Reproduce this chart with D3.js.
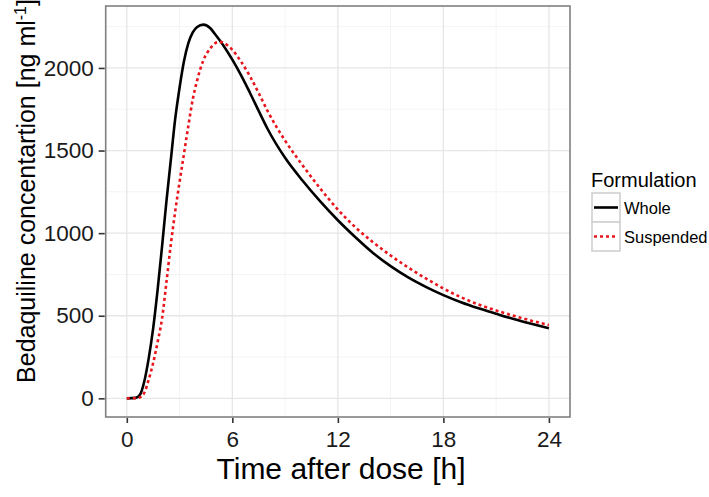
<!DOCTYPE html>
<html>
<head>
<meta charset="utf-8">
<script src="https://cdn.jsdelivr.net/npm/d3@7"></script>
<style>
  body { margin: 0; background: #fff; }
  svg { font-family: "Liberation Sans", Arial, sans-serif; }
</style>
</head>
<body>
<svg width="709" height="497"></svg>
<script>
// time points (h)
var times = [0, 0.5, 0.75, 1, 1.25, 1.5, 1.75, 2, 2.25, 2.5, 2.75, 3, 3.25, 3.5, 3.75, 4, 4.35, 4.75, 5, 5.25, 5.5, 6, 6.5, 7, 7.5, 8, 9, 10, 11, 12, 13, 14, 15, 16, 17, 18, 19, 20, 21, 22, 23, 24];
var whole = [0, 3, 22, 105, 245, 425, 655, 915, 1190, 1440, 1690, 1880, 2040, 2150, 2215, 2248, 2262, 2240, 2207, 2172, 2135, 2050, 1955, 1850, 1740, 1632, 1456, 1317, 1192, 1078, 975, 880, 800, 732, 675, 625, 582, 545, 512, 480, 451, 424];
var suspended = [0, 1, 6, 35, 115, 215, 340, 480, 700, 930, 1130, 1310, 1480, 1650, 1810, 1925, 2045, 2118, 2148, 2158, 2152, 2110, 2038, 1950, 1848, 1740, 1560, 1410, 1270, 1143, 1035, 945, 865, 792, 726, 665, 612, 568, 532, 500, 470, 444];

var xTicks = [0, 6, 12, 18, 24];
var xMinor = [3, 9, 15, 21];
var yTicks = [0, 500, 1000, 1500, 2000];
var yMinor = [250, 750, 1250, 1750, 2250];

var seriesNames = ['Whole', 'Suspended'];
var seriesColor = { Whole: '#000000', Suspended: '#e8161c' };
var seriesDash = { Whole: null, Suspended: '3,3' };

var svg = d3.select('svg');

var x = d3.scaleLinear().domain([-1.2, 25.2]).range([105.7, 570]);
var y = d3.scaleLinear().domain([-113, 2375]).range([417, 6]);

var panel = svg.append('g');

// grid
panel.selectAll('.xminor').data(xMinor).enter().append('line')
    .attr('x1', function (d) { return x(d); }).attr('x2', function (d) { return x(d); })
    .attr('y1', y.range()[0]).attr('y2', y.range()[1])
    .attr('stroke', '#f4f4f4').attr('stroke-width', 1);
panel.selectAll('.yminor').data(yMinor).enter().append('line')
    .attr('x1', x.range()[0]).attr('x2', x.range()[1])
    .attr('y1', function (d) { return y(d); }).attr('y2', function (d) { return y(d); })
    .attr('stroke', '#f4f4f4').attr('stroke-width', 1);
panel.selectAll('.xmajor').data(xTicks).enter().append('line')
    .attr('x1', function (d) { return x(d); }).attr('x2', function (d) { return x(d); })
    .attr('y1', y.range()[0]).attr('y2', y.range()[1])
    .attr('stroke', '#e6e6e6').attr('stroke-width', 1.3);
panel.selectAll('.ymajor').data(yTicks).enter().append('line')
    .attr('x1', x.range()[0]).attr('x2', x.range()[1])
    .attr('y1', function (d) { return y(d); }).attr('y2', function (d) { return y(d); })
    .attr('stroke', '#e6e6e6').attr('stroke-width', 1.3);

// curves
var line = d3.line()
    .x(function (d) { return x(d[0]); })
    .y(function (d) { return y(d[1]); })
    .curve(d3.curveMonotoneX);

var seriesData = {
  Whole: times.map(function (t, i) { return [t, whole[i]]; }),
  Suspended: times.map(function (t, i) { return [t, suspended[i]]; })
};

seriesNames.forEach(function (name) {
  panel.append('path')
      .datum(seriesData[name])
      .attr('d', line)
      .attr('fill', 'none')
      .attr('stroke', seriesColor[name])
      .attr('stroke-width', 2.6)
      .attr('stroke-dasharray', seriesDash[name]);
});

// border
panel.append('rect')
    .attr('x', x.range()[0]).attr('y', y.range()[1])
    .attr('width', x.range()[1] - x.range()[0])
    .attr('height', y.range()[0] - y.range()[1])
    .attr('fill', 'none').attr('stroke', '#808080').attr('stroke-width', 1.6);

// axes
var xAxis = svg.append('g')
    .attr('transform', 'translate(0,' + (y.range()[0] + 1) + ')')
    .call(d3.axisBottom(x).tickValues(xTicks).tickSize(5).tickPadding(8).tickSizeOuter(0));
var yAxis = svg.append('g')
    .attr('transform', 'translate(' + (x.range()[0] - 1) + ',0)')
    .call(d3.axisLeft(y).tickValues(yTicks).tickFormat(d3.format('d')).tickSize(6).tickPadding(5).tickSizeOuter(0));

[xAxis, yAxis].forEach(function (a) {
  a.select('.domain').remove();
  a.selectAll('.tick line').attr('stroke', '#333').attr('stroke-width', 1.6);
  a.selectAll('.tick text').attr('fill', '#1a1a1a')
      .style('font-size', '22.5px').style('font-family', '"Liberation Sans", Arial, sans-serif');
});

// axis titles
svg.append('text')
    .attr('x', 341).attr('y', 479)
    .attr('text-anchor', 'middle')
    .style('font-size', '30px')
    .attr('fill', '#000')
    .text('Time after dose [h]');

var yt = svg.append('text')
    .attr('transform', 'translate(35,191) rotate(-90)')
    .attr('text-anchor', 'middle')
    .style('font-size', '25px')
    .attr('fill', '#000');
yt.append('tspan').text('Bedaquiline concentartion [ng ml');
yt.append('tspan').attr('dy', -9).style('font-size', '16px').text('-1');
yt.append('tspan').attr('dy', 9).text(']');

// legend
var legend = svg.append('g');
legend.append('text')
    .attr('x', 591).attr('y', 187)
    .style('font-size', '20px').attr('fill', '#000')
    .text('Formulation');

var keys = legend.selectAll('.key').data(seriesNames).enter().append('g')
    .attr('transform', function (d, i) { return 'translate(592,' + (193 + i * 29) + ')'; });
keys.append('rect')
    .attr('width', 28).attr('height', 29)
    .attr('fill', '#fff').attr('stroke', '#d0d0d0').attr('stroke-width', 1.6);
keys.append('line')
    .attr('x1', 2).attr('x2', 26).attr('y1', 14.5).attr('y2', 14.5)
    .attr('stroke', function (d) { return seriesColor[d]; })
    .attr('stroke-width', 2.6)
    .attr('stroke-dasharray', function (d) { return seriesDash[d]; });
keys.append('text')
    .attr('x', 32).attr('y', 20.5)
    .style('font-size', '16.5px').attr('fill', '#000')
    .text(function (d) { return d; });
</script>
</body>
</html>
